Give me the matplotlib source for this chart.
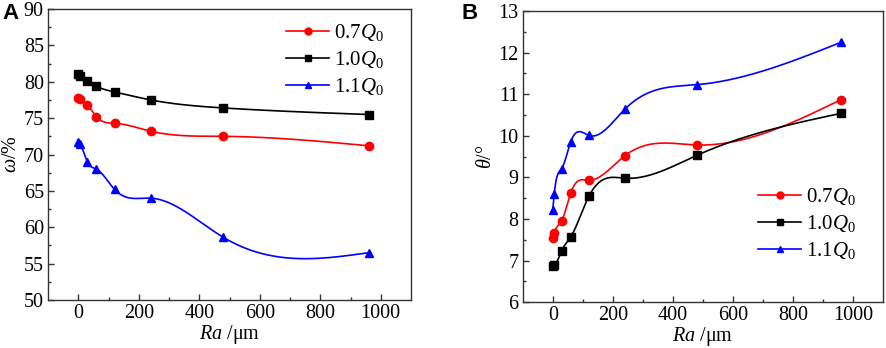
import numpy as np
import matplotlib
matplotlib.use("Agg")
import matplotlib.pyplot as plt

plt.rcParams['font.family'] = 'Liberation Serif'
plt.rcParams['mathtext.fontset'] = 'custom'
plt.rcParams['mathtext.rm'] = 'Liberation Serif'
plt.rcParams['mathtext.it'] = 'Liberation Serif:italic'

ra = [0, 5, 30, 60, 120, 240, 480, 960]

# panel A: omega (%)
omega_07 = [77.8, 77.6, 76.8, 75.2, 74.3, 73.2, 72.5, 71.2]
omega_10 = [81.1, 80.8, 80.1, 79.4, 78.6, 77.5, 76.4, 75.5]
omega_11 = [71.7, 71.5, 69.0, 68.0, 65.2, 64.0, 58.6, 56.5]

# panel B: theta (deg)
theta_07 = [7.54, 7.67, 7.96, 8.63, 8.93, 9.52, 9.78, 10.87]
theta_10 = [6.87, 6.88, 7.24, 7.57, 8.54, 8.98, 9.53, 10.54]
theta_11 = [8.22, 8.61, 9.21, 9.86, 10.01, 10.64, 11.23, 12.25]

labels = [r'0.7$Q_0$', r'1.0$Q_0$', r'1.1$Q_0$']
colors = ['#ff0000', '#000000', '#0000ff']
markers = ['o', 's', '^']


def natural_spline(x, y, n=400):
    x = np.asarray(x, float)
    y = np.asarray(y, float)
    k = len(x)
    h = np.diff(x)
    A = np.zeros((k, k))
    b = np.zeros(k)
    A[0, 0] = 1
    A[-1, -1] = 1
    for i in range(1, k - 1):
        A[i, i - 1] = h[i - 1]
        A[i, i] = 2 * (h[i - 1] + h[i])
        A[i, i + 1] = h[i]
        b[i] = 6 * ((y[i + 1] - y[i]) / h[i] - (y[i] - y[i - 1]) / h[i - 1])
    m = np.linalg.solve(A, b)
    xs = np.linspace(x[0], x[-1], n)
    idx = np.clip(np.searchsorted(x, xs) - 1, 0, k - 2)
    x0, x1 = x[idx], x[idx + 1]
    hh = x1 - x0
    t0 = x1 - xs
    t1 = xs - x0
    ys = (m[idx] * t0**3 + m[idx + 1] * t1**3) / (6 * hh) \
        + (y[idx] / hh - m[idx] * hh / 6) * t0 \
        + (y[idx + 1] / hh - m[idx + 1] * hh / 6) * t1
    return xs, ys


fig = plt.figure(figsize=(8.86, 3.48), dpi=100)
axA = fig.add_axes([0.0542, 0.138, 0.4097, 0.836])
axB = fig.add_axes([0.590, 0.132, 0.4066, 0.836])


def draw(ax, series, ylim, ystep, ylabel, legend_anchor):
    for ys, c, mk, lab in zip(series, colors, markers, labels):
        sx, sy = natural_spline(ra, ys)
        ax.plot(sx, sy, color=c, lw=1.2)
        ax.plot(ra, ys, linestyle='none', marker=mk, color=c, ms=6)
        ax.plot([], [], color=c, lw=1.2, marker=mk, ms=5, label=lab)
    ax.set_xlim(-100, 1100)
    ax.set_ylim(*ylim)
    ax.set_xticks([0, 200, 400, 600, 800, 1000])
    ax.set_xticks([100, 300, 500, 700, 900], minor=True)
    ax.set_yticks(np.arange(ylim[0], ylim[1] + 0.01, ystep))
    ax.set_yticks(np.arange(ylim[0] + ystep / 2, ylim[1], ystep), minor=True)
    ax.tick_params(which='both', direction='in', top=False, right=False,
                   labelsize=14.5, width=1, color='#333333', pad=3)
    ax.tick_params(which='major', length=4)
    ax.tick_params(which='minor', length=2.5)
    for s in ax.spines.values():
        s.set_color('#333333')
        s.set_linewidth(1)
    ax.set_xlabel(r'$Ra$ /μm', fontsize=14.5, labelpad=0)
    ax.set_ylabel(ylabel, fontsize=14.5, labelpad=2)
    ax.legend(loc='upper left', bbox_to_anchor=legend_anchor, frameon=False,
              fontsize=15, handlelength=2.1, handletextpad=0.2,
              labelspacing=0.3)


draw(axA, [omega_07, omega_10, omega_11], (50, 90), 5, r'$\omega$/%',
     (0.603, 1.02))
draw(axB, [theta_07, theta_10, theta_11], (6, 13), 1, r'$\theta$/°',
     (0.600, 0.464))

fig.text(0.003, 0.962, 'A', fontsize=16, fontweight='bold',
         family='Liberation Sans', va='center')
fig.text(0.521, 0.962, 'B', fontsize=16, fontweight='bold',
         family='Liberation Sans', va='center')

fig.savefig('out.png', dpi=100)
